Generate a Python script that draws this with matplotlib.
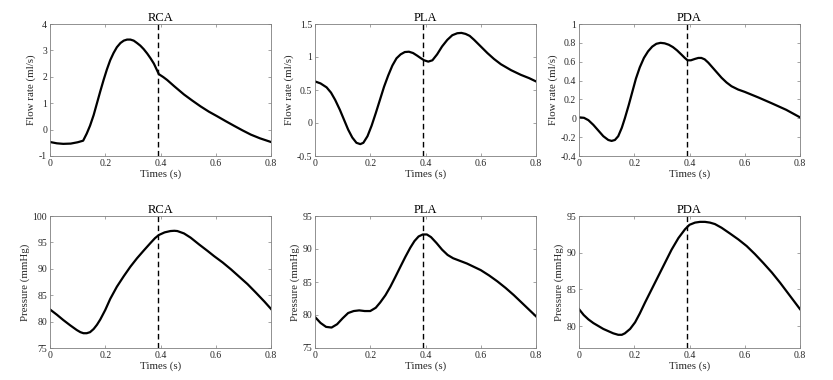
import matplotlib
matplotlib.use("Agg")
import matplotlib.pyplot as plt

plt.rcParams['font.family'] = ['Liberation Serif', 'DejaVu Serif']

# time marker (dashed line)
t_mark = 0.39

# flow rate (ml/s)
rca_flow_t = [0, 0.025, 0.048, 0.075, 0.1, 0.12, 0.133, 0.145, 0.158, 0.17, 0.182, 0.194, 0.206, 0.218,
              0.23, 0.242, 0.255, 0.267, 0.279, 0.291, 0.303, 0.315, 0.327, 0.339, 0.352, 0.364,
              0.376, 0.385, 0.394, 0.41, 0.424, 0.45, 0.485, 0.515, 0.545, 0.575, 0.606, 0.636,
              0.667, 0.697, 0.727, 0.76, 0.8]
rca_flow = [-0.47, -0.52, -0.54, -0.53, -0.48, -0.42, -0.15, 0.15, 0.55, 1.0, 1.45, 1.88, 2.28, 2.63,
            2.9, 3.12, 3.28, 3.37, 3.41, 3.41, 3.37, 3.28, 3.18, 3.05, 2.88, 2.7,
            2.5, 2.3, 2.1, 1.99, 1.88, 1.64, 1.33, 1.1, 0.88, 0.68, 0.5, 0.32,
            0.14, -0.03, -0.19, -0.33, -0.47]

pla_flow_t = [0, 0.02, 0.042, 0.058, 0.073, 0.09, 0.105, 0.12, 0.135, 0.15, 0.164, 0.175, 0.19,
              0.205, 0.22, 0.235, 0.25, 0.265, 0.28, 0.295, 0.31, 0.325, 0.34, 0.355, 0.37, 0.382,
              0.395, 0.41, 0.425, 0.442, 0.46, 0.479, 0.497, 0.515, 0.53, 0.545, 0.56, 0.576,
              0.6, 0.624, 0.648, 0.673, 0.71, 0.745, 0.775, 0.8]
pla_flow = [0.63, 0.6, 0.54, 0.46, 0.35, 0.2, 0.05, -0.1, -0.22, -0.3, -0.32, -0.3, -0.2,
            -0.04, 0.15, 0.35, 0.55, 0.72, 0.87, 0.98, 1.04, 1.075, 1.08, 1.06, 1.02, 0.985,
            0.95, 0.93, 0.95, 1.04, 1.16, 1.26, 1.33, 1.36, 1.365, 1.35, 1.32, 1.26,
            1.16, 1.06, 0.97, 0.89, 0.8, 0.73, 0.68, 0.63]

pda_flow_t = [0, 0.018, 0.034, 0.052, 0.07, 0.088, 0.106, 0.118, 0.13, 0.142, 0.155, 0.166, 0.18,
              0.193, 0.206, 0.22, 0.235, 0.25, 0.265, 0.28, 0.295, 0.31, 0.325, 0.34, 0.355,
              0.371, 0.383, 0.393, 0.405, 0.42, 0.432, 0.443, 0.455, 0.468, 0.48, 0.498, 0.516,
              0.534, 0.552, 0.576, 0.6, 0.65, 0.697, 0.75, 0.8]
pda_flow = [0.01, 0.005, -0.02, -0.07, -0.13, -0.19, -0.23, -0.24, -0.23, -0.19, -0.1, 0.0, 0.14,
            0.28, 0.42, 0.54, 0.64, 0.71, 0.76, 0.79, 0.8, 0.795, 0.78, 0.755, 0.72,
            0.675, 0.64, 0.615, 0.615, 0.63, 0.64, 0.64, 0.625, 0.59, 0.55, 0.49, 0.43,
            0.38, 0.34, 0.305, 0.28, 0.22, 0.16, 0.09, 0.01]

# pressure (mmHg)
rca_p_t = [0, 0.025, 0.048, 0.073, 0.097, 0.11, 0.121, 0.133, 0.145, 0.158, 0.17, 0.182, 0.2, 0.218,
           0.242, 0.267, 0.291, 0.315, 0.34, 0.364, 0.38, 0.394, 0.415, 0.436, 0.45, 0.461,
           0.485, 0.509, 0.54, 0.57, 0.594, 0.625, 0.655, 0.685, 0.715, 0.745, 0.776, 0.8]
rca_p = [82.3, 81.3, 80.3, 79.3, 78.4, 78.0, 77.8, 77.8, 78.0, 78.6, 79.4, 80.4, 82.2, 84.3,
         86.6, 88.6, 90.4, 92.0, 93.5, 94.9, 95.8, 96.4, 96.9, 97.15, 97.2, 97.15,
         96.7, 95.9, 94.6, 93.4, 92.4, 91.2, 89.9, 88.5, 87.1, 85.5, 83.8, 82.4]

pla_p_t = [0, 0.02, 0.04, 0.06, 0.08, 0.1, 0.12, 0.14, 0.16, 0.18, 0.2, 0.22, 0.236, 0.255, 0.273,
           0.29, 0.309, 0.327, 0.345, 0.36, 0.375, 0.39, 0.405, 0.42, 0.44, 0.46, 0.48, 0.5,
           0.525, 0.55, 0.575, 0.6, 0.63, 0.66, 0.69, 0.72, 0.75, 0.775, 0.8]
pla_p = [79.7, 78.8, 78.2, 78.1, 78.6, 79.5, 80.3, 80.6, 80.7, 80.6, 80.6, 81.1, 81.9, 83.0, 84.3,
         85.7, 87.3, 88.8, 90.2, 91.2, 91.9, 92.2, 92.2, 91.8, 90.9, 89.9, 89.1, 88.6,
         88.2, 87.8, 87.3, 86.8, 86.0, 85.1, 84.1, 83.0, 81.8, 80.8, 79.8]

pda_p_t = [0, 0.017, 0.034, 0.052, 0.07, 0.088, 0.106, 0.124, 0.142, 0.155, 0.166, 0.185, 0.203,
           0.22, 0.239, 0.263, 0.287, 0.311, 0.335, 0.36, 0.384, 0.4, 0.42, 0.438, 0.456,
           0.474, 0.492, 0.516, 0.547, 0.577, 0.607, 0.637, 0.667, 0.698, 0.728, 0.764, 0.8]
pda_p = [82.3, 81.5, 80.9, 80.4, 80.0, 79.6, 79.3, 79.0, 78.8, 78.8, 79.0, 79.6, 80.5,
         81.7, 83.2, 85.0, 86.8, 88.6, 90.4, 92.0, 93.2, 93.8, 94.1, 94.2, 94.2,
         94.1, 93.9, 93.4, 92.6, 91.8, 90.9, 89.8, 88.6, 87.3, 85.9, 84.1, 82.3]

titles = ['RCA', 'PLA', 'PDA']
flow_series = [(rca_flow_t, rca_flow), (pla_flow_t, pla_flow), (pda_flow_t, pda_flow)]
pres_series = [(rca_p_t, rca_p), (pla_p_t, pla_p), (pda_p_t, pda_p)]

flow_ylims = [(-1, 4), (-0.5, 1.5), (-0.4, 1)]
flow_yticks = [[-1, 0, 1, 2, 3, 4], [-0.5, 0, 0.5, 1, 1.5], [-0.4, -0.2, 0, 0.2, 0.4, 0.6, 0.8, 1]]
flow_yticklabels = [['-1', '0', '1', '2', '3', '4'], ['-0.5', '0', '0.5', '1', '1.5'],
                    ['-0.4', '-0.2', '0', '0.2', '0.4', '0.6', '0.8', '1']]
pres_ylims = [(75, 100), (75, 95), (77, 95)]
pres_yticks = [[75, 80, 85, 90, 95, 100], [75, 80, 85, 90, 95], [80, 85, 90, 95]]

xticks = [0, 0.2, 0.4, 0.6, 0.8]
xticklabels = ['0', '0.2', '0.4', '0.6', '0.8']

W, H = 833, 380
fig = plt.figure(figsize=(W / 100, H / 100), dpi=100)
lefts = [50, 315, 579]
tops = [24, 216]
aw, ah = 221, 132

gray = '#7f7f7f'
txt = '#262626'


def style(ax, title, ylabel):
    ax.set_xlim(0, 0.8)
    ax.set_xticks(xticks)
    ax.set_xticklabels(xticklabels)
    ax.axvline(t_mark, color='black', ls=(0, (4, 2.5)), lw=1.0)
    for s in ax.spines.values():
        s.set_color(gray)
        s.set_linewidth(0.6)
    ax.tick_params(direction='in', length=2.5, width=0.5, color=gray, labelsize=7,
                   labelcolor=txt, top=True, right=True, pad=2)
    ax.set_title(title, fontsize=9, color='black', pad=2)
    ax.set_xlabel('Times (s)', fontsize=7.8, color=txt, labelpad=1)
    ax.set_ylabel(ylabel, fontsize=7.8, color=txt, labelpad=2)


for i in range(3):
    ax = fig.add_axes([lefts[i] / W, 1 - (tops[0] + ah) / H, aw / W, ah / H])
    t, y = flow_series[i]
    ax.plot(t, y, color='black', lw=1.6)
    ax.set_ylim(*flow_ylims[i])
    ax.set_yticks(flow_yticks[i])
    ax.set_yticklabels(flow_yticklabels[i])
    style(ax, titles[i], 'Flow rate (ml/s)')

    ax = fig.add_axes([lefts[i] / W, 1 - (tops[1] + ah) / H, aw / W, ah / H])
    t, y = pres_series[i]
    ax.plot(t, y, color='black', lw=1.6)
    ax.set_ylim(*pres_ylims[i])
    ax.set_yticks(pres_yticks[i])
    style(ax, titles[i], 'Pressure (mmHg)')

fig.savefig('out.png', dpi=100)
